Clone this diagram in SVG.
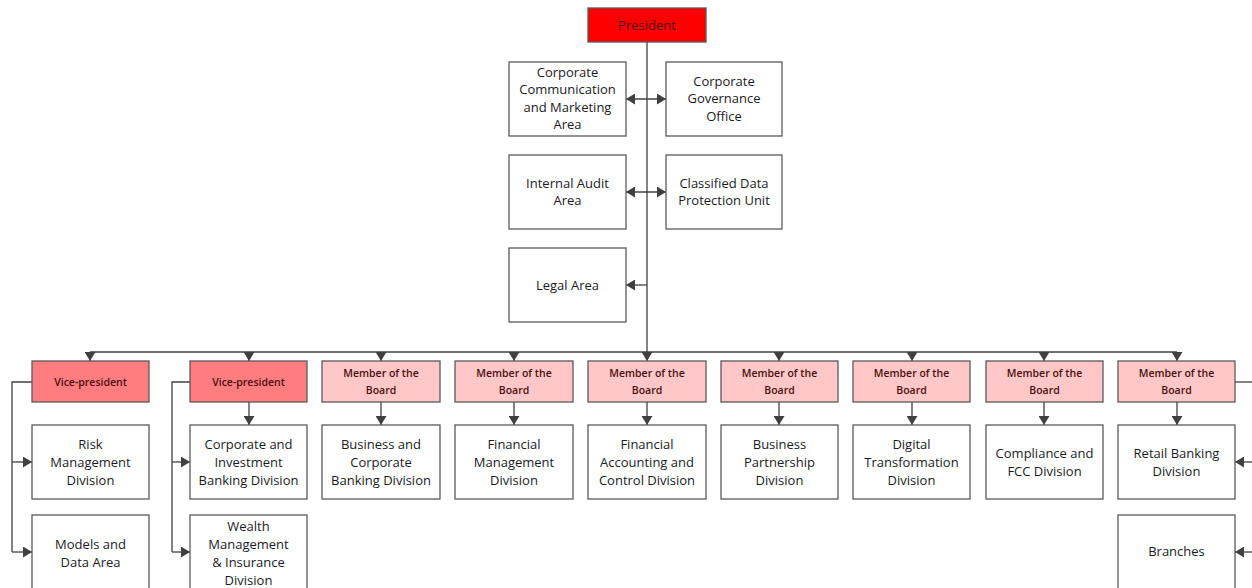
<svg xmlns="http://www.w3.org/2000/svg" width="1252" height="588" viewBox="0 0 1252 588">
<defs>
<marker id="ah" viewBox="0 0 9 11" refX="9" refY="5.5" markerWidth="9" markerHeight="11" markerUnits="userSpaceOnUse" orient="auto-start-reverse">
<path d="M0,0 L9,5.5 L0,11 z" fill="#404040"/>
</marker>
<style>
.bx{fill:#fff;stroke:#595959;stroke-width:1.3}
.pres{fill:#ff0000;stroke:#595959;stroke-width:1.3}
.vp{fill:#ff7c80;stroke:#595959;stroke-width:1.3}
.mb{fill:#ffc7c7;stroke:#595959;stroke-width:1.3}
.t{font-family:"Open Sans","DejaVu Sans",sans-serif;font-size:13px;fill:#1a1a26;text-anchor:middle}
.s{font-family:"Open Sans","DejaVu Sans",sans-serif;font-size:10.5px;font-weight:600;fill:#4a1010;text-anchor:middle}
.pt{font-family:"Open Sans","DejaVu Sans",sans-serif;font-size:13px;fill:#4a0000;text-anchor:middle}
.c{fill:none;stroke:#404040;stroke-width:1.3}
.a{fill:none;stroke:#404040;stroke-width:1.3;marker-end:url(#ah)}
.d{fill:none;stroke:#404040;stroke-width:1.3;marker-start:url(#ah);marker-end:url(#ah)}
</style>
</defs>

<g id="connectors">
<line class="a" x1="647" y1="42" x2="647" y2="361"/>
<line class="d" x1="626" y1="99" x2="666" y2="99"/>
<line class="d" x1="626" y1="192" x2="666" y2="192"/>
<line class="a" x1="647" y1="285" x2="626" y2="285"/>
<line class="c" x1="90" y1="352" x2="1177" y2="352"/>
<line class="a" x1="90" y1="352" x2="90" y2="361"/>
<line class="a" x1="249" y1="352" x2="249" y2="361"/>
<line class="a" x1="381" y1="352" x2="381" y2="361"/>
<line class="a" x1="514" y1="352" x2="514" y2="361"/>
<line class="a" x1="779" y1="352" x2="779" y2="361"/>
<line class="a" x1="912" y1="352" x2="912" y2="361"/>
<line class="a" x1="1044" y1="352" x2="1044" y2="361"/>
<line class="a" x1="1177" y1="352" x2="1177" y2="361"/>
<path class="c" d="M32,382 H12 V552"/>
<line class="a" x1="12" y1="462" x2="32" y2="462"/>
<line class="a" x1="12" y1="552" x2="32" y2="552"/>
<path class="c" d="M190,382 H172 V552"/>
<line class="a" x1="172" y1="462" x2="190" y2="462"/>
<line class="a" x1="172" y1="552" x2="190" y2="552"/>
<line class="a" x1="249" y1="402" x2="249" y2="425"/>
<line class="a" x1="381" y1="402" x2="381" y2="425"/>
<line class="a" x1="514" y1="402" x2="514" y2="425"/>
<line class="a" x1="647" y1="402" x2="647" y2="425"/>
<line class="a" x1="779" y1="402" x2="779" y2="425"/>
<line class="a" x1="912" y1="402" x2="912" y2="425"/>
<line class="a" x1="1044" y1="402" x2="1044" y2="425"/>
<line class="a" x1="1177" y1="402" x2="1177" y2="425"/>
<line class="c" x1="1235" y1="382" x2="1252" y2="382"/>
<line class="a" x1="1254" y1="462" x2="1235" y2="462"/>
<line class="a" x1="1254" y1="552" x2="1235" y2="552"/>
</g>

<g id="president"><rect class="pres" x="588" y="8" width="118" height="34"/><text class="pt" x="647" y="30">President</text></g>

<g id="ccm"><rect class="bx" x="509" y="62" width="117" height="74"/>
<text class="t" x="567.5" y="76.5">Corporate</text><text class="t" x="567.5" y="94">Communication</text><text class="t" x="567.5" y="111.5">and Marketing</text><text class="t" x="567.5" y="129">Area</text></g>

<g id="cgo"><rect class="bx" x="666" y="62" width="116" height="74"/>
<text class="t" x="724" y="85.5">Corporate</text><text class="t" x="724" y="103">Governance</text><text class="t" x="724" y="120.5">Office</text></g>

<g id="iaa"><rect class="bx" x="509" y="155" width="117" height="74"/>
<text class="t" x="567.5" y="187.5">Internal Audit</text><text class="t" x="567.5" y="205">Area</text></g>

<g id="cdpu"><rect class="bx" x="666" y="155" width="116" height="74"/>
<text class="t" x="724" y="187.5">Classified Data</text><text class="t" x="724" y="205">Protection Unit</text></g>

<g id="legal"><rect class="bx" x="509" y="248" width="117" height="74"/>
<text class="t" x="567.5" y="289.5">Legal Area</text></g>

<g id="vp1"><rect class="vp" x="32" y="361" width="117" height="41"/><text class="s" x="90.5" y="386">Vice-president</text></g>
<g id="vp2"><rect class="vp" x="190" y="361" width="117" height="41"/><text class="s" x="248.5" y="386">Vice-president</text></g>

<g id="mb1"><rect class="mb" x="322" y="361" width="118" height="41"/><text class="s" x="381" y="377">Member of the</text><text class="s" x="381" y="394">Board</text></g>
<g id="mb2"><rect class="mb" x="455" y="361" width="118" height="41"/><text class="s" x="514" y="377">Member of the</text><text class="s" x="514" y="394">Board</text></g>
<g id="mb3"><rect class="mb" x="588" y="361" width="118" height="41"/><text class="s" x="647" y="377">Member of the</text><text class="s" x="647" y="394">Board</text></g>
<g id="mb4"><rect class="mb" x="721" y="361" width="117" height="41"/><text class="s" x="779.5" y="377">Member of the</text><text class="s" x="779.5" y="394">Board</text></g>
<g id="mb5"><rect class="mb" x="853" y="361" width="117" height="41"/><text class="s" x="911.5" y="377">Member of the</text><text class="s" x="911.5" y="394">Board</text></g>
<g id="mb6"><rect class="mb" x="986" y="361" width="117" height="41"/><text class="s" x="1044.5" y="377">Member of the</text><text class="s" x="1044.5" y="394">Board</text></g>
<g id="mb7"><rect class="mb" x="1118" y="361" width="117" height="41"/><text class="s" x="1176.5" y="377">Member of the</text><text class="s" x="1176.5" y="394">Board</text></g>

<g id="risk"><rect class="bx" x="32" y="425" width="117" height="74"/>
<text class="t" x="90.5" y="448.5">Risk</text><text class="t" x="90.5" y="466.5">Management</text><text class="t" x="90.5" y="484.5">Division</text></g>
<g id="models"><rect class="bx" x="32" y="515" width="117" height="80"/>
<text class="t" x="90.5" y="548.5">Models and</text><text class="t" x="90.5" y="566.5">Data Area</text></g>

<g id="cib"><rect class="bx" x="190" y="425" width="117" height="74"/>
<text class="t" x="248.5" y="448.5">Corporate and</text><text class="t" x="248.5" y="466.5">Investment</text><text class="t" x="248.5" y="484.5">Banking Division</text></g>
<g id="wealth"><rect class="bx" x="190" y="515" width="117" height="80"/>
<text class="t" x="248.5" y="530.5">Wealth</text><text class="t" x="248.5" y="548.5">Management</text><text class="t" x="248.5" y="566.5">&amp; Insurance</text><text class="t" x="248.5" y="584.5">Division</text></g>

<g id="bcb"><rect class="bx" x="322" y="425" width="118" height="74"/>
<text class="t" x="381" y="448.5">Business and</text><text class="t" x="381" y="466.5">Corporate</text><text class="t" x="381" y="484.5">Banking Division</text></g>
<g id="fmd"><rect class="bx" x="455" y="425" width="118" height="74"/>
<text class="t" x="514" y="448.5">Financial</text><text class="t" x="514" y="466.5">Management</text><text class="t" x="514" y="484.5">Division</text></g>
<g id="facd"><rect class="bx" x="588" y="425" width="118" height="74"/>
<text class="t" x="647" y="448.5">Financial</text><text class="t" x="647" y="466.5">Accounting and</text><text class="t" x="647" y="484.5">Control Division</text></g>
<g id="bpd"><rect class="bx" x="721" y="425" width="117" height="74"/>
<text class="t" x="779.5" y="448.5">Business</text><text class="t" x="779.5" y="466.5">Partnership</text><text class="t" x="779.5" y="484.5">Division</text></g>
<g id="dtd"><rect class="bx" x="853" y="425" width="117" height="74"/>
<text class="t" x="911.5" y="448.5">Digital</text><text class="t" x="911.5" y="466.5">Transformation</text><text class="t" x="911.5" y="484.5">Division</text></g>
<g id="cfcc"><rect class="bx" x="986" y="425" width="117" height="74"/>
<text class="t" x="1044.5" y="457.5">Compliance and</text><text class="t" x="1044.5" y="475.5">FCC Division</text></g>
<g id="rbd"><rect class="bx" x="1118" y="425" width="117" height="74"/>
<text class="t" x="1176.5" y="457.5">Retail Banking</text><text class="t" x="1176.5" y="475.5">Division</text></g>
<g id="branches"><rect class="bx" x="1118" y="515" width="117" height="80"/>
<text class="t" x="1176.5" y="555.5">Branches</text></g>
</svg>
